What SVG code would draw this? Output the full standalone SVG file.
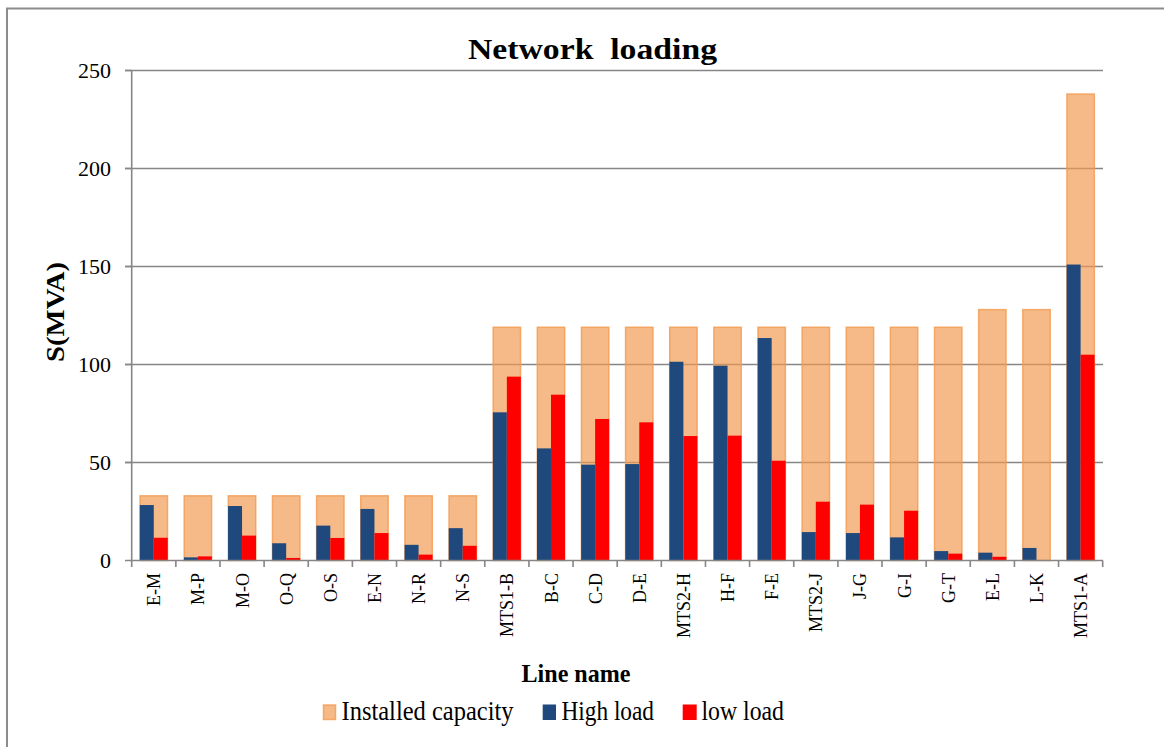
<svg xmlns="http://www.w3.org/2000/svg" width="1164" height="747" viewBox="0 0 1164 747">
<style>
.grid{stroke:#868686;stroke-width:1.6;fill:none}
.cap{fill:#F29A50;fill-opacity:0.68;stroke:#F29A50;stroke-opacity:0.8;stroke-width:1.5}
.hi{fill:#1F497D}
.lo{fill:#FF0000}
.yl{font-family:"Liberation Serif","Times New Roman",serif;font-size:22px;text-anchor:end;fill:#000}
.xl{font-family:"Liberation Serif","Times New Roman",serif;font-size:18px;text-anchor:end;fill:#000}
.lg{font-family:"Liberation Serif","Times New Roman",serif;font-size:28px;fill:#000}
.bt{font-family:"Liberation Serif","Times New Roman",serif;font-weight:bold;fill:#000}
</style>
<rect x="0" y="0" width="1164" height="747" fill="#fff"/>
<path d="M7,747 V8.5 H1164" fill="none" stroke="#8c8c8c" stroke-width="2"/>
<text class="bt" x="592.5" y="59" font-size="29" text-anchor="middle" textLength="249" lengthAdjust="spacingAndGlyphs">Network&#160; loading</text>
<g id="gridlines">
<path class="grid" d="M125,70.5H1103M125,168.5H1103M125,266.5H1103M125,364.5H1103M125,462.5H1103"/>
</g>
<g id="y-labels">
<text class="yl" x="111" y="77.5">250</text>
<text class="yl" x="111" y="175.5">200</text>
<text class="yl" x="111" y="273.5">150</text>
<text class="yl" x="111" y="371.5">100</text>
<text class="yl" x="111" y="469.5">50</text>
<text class="yl" x="111" y="567.5">0</text>
</g>
<text class="bt" font-size="26" text-anchor="middle" transform="translate(64,312) rotate(-90)" textLength="100" lengthAdjust="spacingAndGlyphs">S(MVA)</text>
<g id="capacity">
<rect class="cap" x="140.07" y="495.82" width="27.4" height="64.68"/>
<rect class="cap" x="184.2" y="495.82" width="27.4" height="64.68"/>
<rect class="cap" x="228.34" y="495.82" width="27.4" height="64.68"/>
<rect class="cap" x="272.48" y="495.82" width="27.4" height="64.68"/>
<rect class="cap" x="316.61" y="495.82" width="27.4" height="64.68"/>
<rect class="cap" x="360.75" y="495.82" width="27.4" height="64.68"/>
<rect class="cap" x="404.88" y="495.82" width="27.4" height="64.68"/>
<rect class="cap" x="449.02" y="495.82" width="27.4" height="64.68"/>
<rect class="cap" x="493.16" y="327.26" width="27.4" height="233.24"/>
<rect class="cap" x="537.29" y="327.26" width="27.4" height="233.24"/>
<rect class="cap" x="581.43" y="327.26" width="27.4" height="233.24"/>
<rect class="cap" x="625.56" y="327.26" width="27.4" height="233.24"/>
<rect class="cap" x="669.7" y="327.26" width="27.4" height="233.24"/>
<rect class="cap" x="713.84" y="327.26" width="27.4" height="233.24"/>
<rect class="cap" x="757.97" y="327.26" width="27.4" height="233.24"/>
<rect class="cap" x="802.11" y="327.26" width="27.4" height="233.24"/>
<rect class="cap" x="846.24" y="327.26" width="27.4" height="233.24"/>
<rect class="cap" x="890.38" y="327.26" width="27.4" height="233.24"/>
<rect class="cap" x="934.52" y="327.26" width="27.4" height="233.24"/>
<rect class="cap" x="978.65" y="309.62" width="27.4" height="250.88"/>
<rect class="cap" x="1022.79" y="309.62" width="27.4" height="250.88"/>
<rect class="cap" x="1066.92" y="94.02" width="27.4" height="466.48"/>
</g>
<g id="high">
<rect class="hi" x="139.77" y="505.03" width="14" height="55.47"/>
<rect class="hi" x="183.9" y="557.36" width="14" height="3.14"/>
<rect class="hi" x="228.04" y="506.01" width="14" height="54.49"/>
<rect class="hi" x="272.18" y="543.25" width="14" height="17.25"/>
<rect class="hi" x="316.31" y="525.61" width="14" height="34.89"/>
<rect class="hi" x="360.45" y="508.95" width="14" height="51.55"/>
<rect class="hi" x="404.58" y="544.82" width="14" height="15.68"/>
<rect class="hi" x="448.72" y="528.16" width="14" height="32.34"/>
<rect class="hi" x="492.86" y="412.32" width="14" height="148.18"/>
<rect class="hi" x="536.99" y="448.39" width="14" height="112.11"/>
<rect class="hi" x="581.13" y="464.66" width="14" height="95.84"/>
<rect class="hi" x="625.26" y="464.07" width="14" height="96.43"/>
<rect class="hi" x="669.4" y="361.76" width="14" height="198.74"/>
<rect class="hi" x="713.54" y="365.68" width="14" height="194.82"/>
<rect class="hi" x="757.67" y="338.04" width="14" height="222.46"/>
<rect class="hi" x="801.81" y="532.08" width="14" height="28.42"/>
<rect class="hi" x="845.94" y="533.06" width="14" height="27.44"/>
<rect class="hi" x="890.08" y="537.37" width="14" height="23.13"/>
<rect class="hi" x="934.22" y="551.09" width="14" height="9.41"/>
<rect class="hi" x="978.35" y="552.66" width="14" height="7.84"/>
<rect class="hi" x="1022.49" y="547.96" width="14" height="12.54"/>
<rect class="hi" x="1066.62" y="264.54" width="14" height="295.96"/>
</g>
<g id="low">
<rect class="lo" x="153.77" y="537.76" width="14" height="22.74"/>
<rect class="lo" x="197.9" y="556.38" width="14" height="4.12"/>
<rect class="lo" x="242.04" y="535.61" width="14" height="24.89"/>
<rect class="lo" x="286.18" y="557.95" width="14" height="2.55"/>
<rect class="lo" x="330.31" y="537.96" width="14" height="22.54"/>
<rect class="lo" x="374.45" y="533.06" width="14" height="27.44"/>
<rect class="lo" x="418.58" y="554.62" width="14" height="5.88"/>
<rect class="lo" x="462.72" y="545.8" width="14" height="14.7"/>
<rect class="lo" x="506.86" y="376.65" width="14" height="183.85"/>
<rect class="lo" x="550.99" y="394.68" width="14" height="165.82"/>
<rect class="lo" x="595.13" y="418.99" width="14" height="141.51"/>
<rect class="lo" x="639.26" y="422.32" width="14" height="138.18"/>
<rect class="lo" x="683.4" y="436.04" width="14" height="124.46"/>
<rect class="lo" x="727.54" y="435.65" width="14" height="124.85"/>
<rect class="lo" x="771.67" y="460.74" width="14" height="99.76"/>
<rect class="lo" x="815.81" y="501.7" width="14" height="58.8"/>
<rect class="lo" x="859.94" y="504.64" width="14" height="55.86"/>
<rect class="lo" x="904.08" y="510.72" width="14" height="49.78"/>
<rect class="lo" x="948.22" y="553.64" width="14" height="6.86"/>
<rect class="lo" x="992.35" y="556.78" width="14" height="3.72"/>
<rect class="lo" x="1080.62" y="354.7" width="14" height="205.8"/>
</g>
<g id="axes">
<path class="grid" d="M131.7,70.5V560.5M125,70.5H131.7M125,168.5H131.7M125,266.5H131.7M125,364.5H131.7M125,462.5H131.7M125,560.5H1103"/>
<path class="grid" d="M131.7,560.5V567M175.84,560.5V567M219.97,560.5V567M264.11,560.5V567M308.24,560.5V567M352.38,560.5V567M396.52,560.5V567M440.65,560.5V567M484.79,560.5V567M528.92,560.5V567M573.06,560.5V567M617.2,560.5V567M661.33,560.5V567M705.47,560.5V567M749.6,560.5V567M793.74,560.5V567M837.88,560.5V567M882.01,560.5V567M926.15,560.5V567M970.28,560.5V567M1014.42,560.5V567M1058.56,560.5V567M1102.69,560.5V567"/>
</g>
<g id="x-labels">
<text class="xl" transform="translate(160.3,573) rotate(-90)">E-M</text>
<text class="xl" transform="translate(204.4,573) rotate(-90)">M-P</text>
<text class="xl" transform="translate(248.5,573) rotate(-90)">M-O</text>
<text class="xl" transform="translate(292.7,573) rotate(-90)">O-Q</text>
<text class="xl" transform="translate(336.8,573) rotate(-90)">O-S</text>
<text class="xl" transform="translate(380.9,573) rotate(-90)">E-N</text>
<text class="xl" transform="translate(425.1,573) rotate(-90)">N-R</text>
<text class="xl" transform="translate(469.2,573) rotate(-90)">N-S</text>
<text class="xl" transform="translate(513.4,573) rotate(-90)">MTS1-B</text>
<text class="xl" transform="translate(557.5,573) rotate(-90)">B-C</text>
<text class="xl" transform="translate(601.6,573) rotate(-90)">C-D</text>
<text class="xl" transform="translate(645.8,573) rotate(-90)">D-E</text>
<text class="xl" transform="translate(689.9,573) rotate(-90)">MTS2-H</text>
<text class="xl" transform="translate(734,573) rotate(-90)">H-F</text>
<text class="xl" transform="translate(778.2,573) rotate(-90)">F-E</text>
<text class="xl" transform="translate(822.3,573) rotate(-90)">MTS2-J</text>
<text class="xl" transform="translate(866.4,573) rotate(-90)">J-G</text>
<text class="xl" transform="translate(910.6,573) rotate(-90)">G-I</text>
<text class="xl" transform="translate(954.7,573) rotate(-90)">G-T</text>
<text class="xl" transform="translate(998.9,573) rotate(-90)">E-L</text>
<text class="xl" transform="translate(1043,573) rotate(-90)">L-K</text>
<text class="xl" transform="translate(1087.1,573) rotate(-90)">MTS1-A</text>
</g>
<text class="bt" x="576" y="681.5" font-size="25" text-anchor="middle" textLength="109" lengthAdjust="spacingAndGlyphs">Line name</text>
<g id="legend">
<rect class="cap" x="323.5" y="705" width="12" height="14.5"/>
<text class="lg" x="341.5" y="720" textLength="172" lengthAdjust="spacingAndGlyphs">Installed capacity</text>
<rect class="hi" x="542.7" y="704.5" width="13.3" height="15.5"/>
<text class="lg" x="561.5" y="720" textLength="92.5" lengthAdjust="spacingAndGlyphs">High load</text>
<rect class="lo" x="682.7" y="704.5" width="14" height="15.5"/>
<text class="lg" x="701.5" y="720" textLength="82.5" lengthAdjust="spacingAndGlyphs">low load</text>
</g>
</svg>
